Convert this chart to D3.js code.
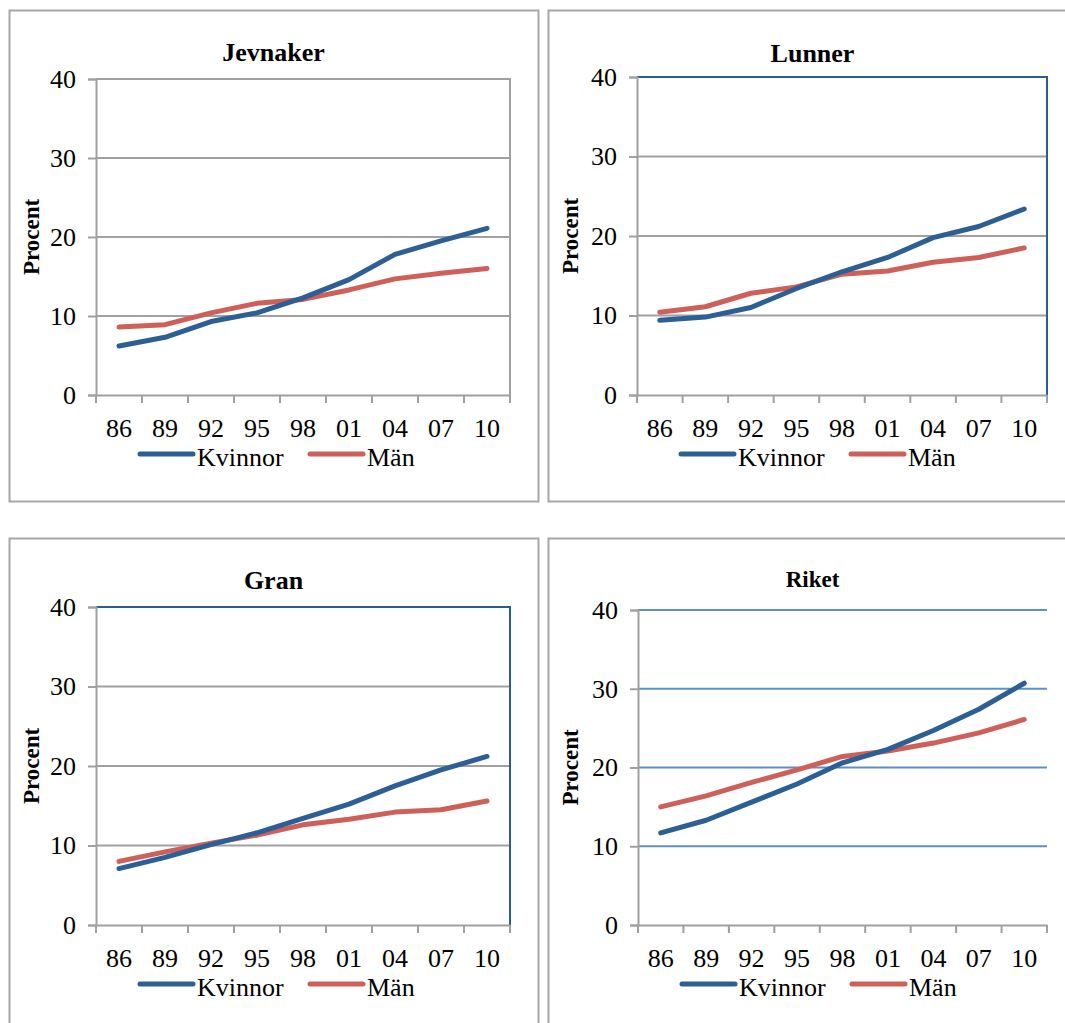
<!DOCTYPE html>
<html>
<head>
<meta charset="utf-8">
<script src="https://cdn.jsdelivr.net/npm/d3@7"></script>
<style>
  body { margin: 0; background: #fff; }
  text { font-family: "Liberation Serif", "Times New Roman", serif; fill: #000; }
</style>
</head>
<body>
<div id="chart"></div>
<script>
// years on x axis
const years = ['86', '89', '92', '95', '98', '01', '04', '07', '10']
const yTicks = [0, 10, 20, 30, 40]
const seriesNames = ['Kvinnor', 'Män']

const jevnakerKvinnor = [6.2, 7.3, 9.3, 10.4, 12.3, 14.6, 17.8, 19.5, 21.1]
const jevnakerMan     = [8.6, 8.9, 10.4, 11.6, 12.1, 13.3, 14.7, 15.4, 16.0]
const lunnerKvinnor   = [9.4, 9.8, 11.0, 13.4, 15.5, 17.3, 19.8, 21.2, 23.4]
const lunnerMan       = [10.4, 11.1, 12.8, 13.6, 15.2, 15.6, 16.7, 17.3, 18.5]
const granKvinnor     = [7.1, 8.5, 10.1, 11.6, 13.4, 15.2, 17.5, 19.5, 21.2]
const granMan         = [8.0, 9.2, 10.3, 11.3, 12.6, 13.3, 14.2, 14.5, 15.6]
const riketKvinnor    = [11.7, 13.3, 15.6, 17.9, 20.6, 22.3, 24.7, 27.4, 30.7]
const riketMan        = [15.0, 16.4, 18.1, 19.7, 21.4, 22.1, 23.1, 24.4, 26.1]

const colors = {kvinnor: '#2b5f96', man: '#cf5f59'}
const serif = '"Liberation Serif", "Times New Roman", serif'

const panels = [
    {title: 'Jevnaker', k: jevnakerKvinnor, m: jevnakerMan,
     frame: {x: 9, y: 10, w: 529, h: 491},
     plot: {left: 96, right: 510, top: 79, bottom: 395},
     titleSize: 26, titleY: 61, border: '#a0a0a0', grid: '#a0a0a0'},
    {title: 'Lunner', k: lunnerKvinnor, m: lunnerMan,
     frame: {x: 548, y: 10, w: 529, h: 491},
     plot: {left: 637, right: 1047, top: 77, bottom: 395},
     titleSize: 26, titleY: 62, border: '#2c5d92', grid: '#a0a0a0'},
    {title: 'Gran', k: granKvinnor, m: granMan,
     frame: {x: 9, y: 538, w: 529, h: 500},
     plot: {left: 96, right: 510, top: 607, bottom: 925},
     titleSize: 26, titleY: 589, border: '#2c5d92', grid: '#a0a0a0'},
    {title: 'Riket', k: riketKvinnor, m: riketMan,
     frame: {x: 548, y: 538, w: 529, h: 500},
     plot: {left: 638, right: 1047, top: 610, bottom: 925},
     titleSize: 23, titleY: 587, border: null, grid: '#5e90c8'}
]

const svg = d3.select('#chart').append('svg')
    .attr('width', 1065)
    .attr('height', 1023)

panels.forEach(p => drawPanel(p))

function drawPanel(p) {
    let g = svg.append('g')
    let pl = p.plot

    // outer frame
    g.append('rect')
        .attr('x', p.frame.x + 0.5)
        .attr('y', p.frame.y + 0.5)
        .attr('width', p.frame.w)
        .attr('height', p.frame.h)
        .attr('fill', '#fff')
        .attr('stroke', '#a6a6a6')
        .attr('stroke-width', 2)

    let x = d3.scaleBand()
        .domain(years)
        .range([pl.left, pl.right])
        .paddingInner(0)
    let y = d3.scaleLinear()
        .domain([0, 40])
        .range([pl.bottom, pl.top])

    // gridlines
    g.append('g').selectAll('line')
        .data(yTicks.filter(d => d > 0))
        .join('line')
            .attr('x1', pl.left)
            .attr('x2', pl.right)
            .attr('y1', d => y(d))
            .attr('y2', d => y(d))
            .attr('stroke', p.grid)
            .attr('stroke-width', 2)

    // plot area border (top + right)
    if (p.border) {
        g.append('path')
            .attr('d', `M${pl.left},${pl.top}H${pl.right}V${pl.bottom}`)
            .attr('fill', 'none')
            .attr('stroke', p.border)
            .attr('stroke-width', 2)
    }

    // y axis
    let yAxis = d3.axisLeft(y).tickValues(yTicks).tickSize(8).tickPadding(12)
    let ya = g.append('g')
        .attr('transform', `translate(${pl.left},0)`)
        .call(yAxis)
    ya.attr('font-family', null)
    ya.select('.domain').attr('stroke', '#a0a0a0').attr('stroke-width', 2)
    ya.selectAll('.tick line').attr('stroke', '#a0a0a0').attr('stroke-width', 2)
    ya.selectAll('.tick text')
        .style('font-family', serif)
        .style('font-size', '26px')
        .attr('fill', '#000')

    // x axis: labels under band centers, ticks at band edges
    let xAxis = d3.axisBottom(x).tickSize(0).tickPadding(24)
    let xa = g.append('g')
        .attr('transform', `translate(0,${pl.bottom})`)
        .call(xAxis)
    xa.attr('font-family', null)
    xa.select('.domain').attr('stroke', '#a0a0a0').attr('stroke-width', 2)
    xa.selectAll('.tick text')
        .style('font-family', serif)
        .style('font-size', '26px')
        .attr('fill', '#000')
    let edges = years.map(d => x(d)).concat([x(years[years.length - 1]) + x.bandwidth()])
    xa.selectAll('.edge')
        .data(edges)
        .join('line')
            .attr('class', 'edge')
            .attr('x1', d => d).attr('x2', d => d)
            .attr('y1', 0).attr('y2', 8)
            .attr('stroke', '#a0a0a0')
            .attr('stroke-width', 2)

    // lines
    let line = d3.line()
        .x((d, i) => x(years[i]) + x.bandwidth() / 2)
        .y(d => y(d))
    g.append('path').datum(p.m)
        .attr('d', line)
        .attr('fill', 'none')
        .attr('stroke', colors.man)
        .attr('stroke-width', 5)
        .attr('stroke-linecap', 'round')
        .attr('stroke-linejoin', 'round')
    g.append('path').datum(p.k)
        .attr('d', line)
        .attr('fill', 'none')
        .attr('stroke', colors.kvinnor)
        .attr('stroke-width', 5)
        .attr('stroke-linecap', 'round')
        .attr('stroke-linejoin', 'round')

    // title
    g.append('text')
        .attr('x', p.frame.x + p.frame.w / 2)
        .attr('y', p.titleY)
        .attr('text-anchor', 'middle')
        .style('font-family', serif)
        .style('font-weight', 'bold')
        .style('font-size', p.titleSize + 'px')
        .text(p.title)

    // y title
    g.append('text')
        .attr('transform', `translate(${p.frame.x + 30},${(pl.top + pl.bottom) / 2}) rotate(-90)`)
        .attr('text-anchor', 'middle')
        .style('font-family', serif)
        .style('font-weight', 'bold')
        .style('font-size', '23px')
        .text('Procent')

    // legend
    let ly = pl.bottom + 59
    let legendItems = [
        {name: seriesNames[0], color: colors.kvinnor, dx: 44},
        {name: seriesNames[1], color: colors.man, dx: 214}
    ]
    let lg = g.append('g')
    legendItems.forEach(d => {
        lg.append('line')
            .attr('x1', pl.left + d.dx).attr('x2', pl.left + d.dx + 53)
            .attr('y1', ly).attr('y2', ly)
            .attr('stroke', d.color)
            .attr('stroke-width', 5)
            .attr('stroke-linecap', 'round')
        lg.append('text')
            .attr('x', pl.left + d.dx + 57)
            .attr('y', ly + 12)
            .style('font-family', serif)
            .style('font-size', '26px')
            .text(d.name)
    })
}
</script>
</body>
</html>
